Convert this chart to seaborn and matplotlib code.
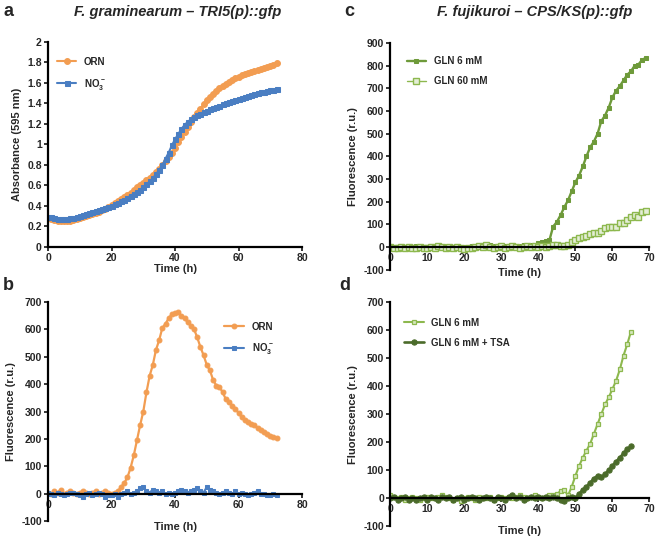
import matplotlib
matplotlib.use('Agg')
import matplotlib.pyplot as plt
import matplotlib.ticker as mticker
import seaborn as sns

# ---- panel a: absorbance, hourly 0..72 h
time_a = list(range(0, 73))
abs_orn = [0.28, 0.27, 0.26, 0.255, 0.25, 0.25, 0.25, 0.255, 0.26, 0.27,
           0.28, 0.29, 0.30, 0.31, 0.32, 0.33, 0.345, 0.36, 0.375, 0.39,
           0.41, 0.43, 0.45, 0.47, 0.49, 0.51, 0.53, 0.555, 0.58, 0.60,
           0.625, 0.65, 0.675, 0.70, 0.73, 0.76, 0.80, 0.84, 0.88, 0.92,
           0.97, 1.02, 1.07, 1.12, 1.17, 1.22, 1.27, 1.31, 1.35, 1.39,
           1.43, 1.46, 1.49, 1.52, 1.55, 1.57, 1.59, 1.61, 1.63, 1.65,
           1.66, 1.68, 1.69, 1.70, 1.71, 1.72, 1.73, 1.74, 1.75, 1.76,
           1.77, 1.78, 1.79]
abs_no3 = [0.29, 0.29, 0.28, 0.275, 0.27, 0.27, 0.275, 0.28, 0.285, 0.29,
           0.30, 0.31, 0.32, 0.33, 0.34, 0.35, 0.36, 0.37, 0.38, 0.39,
           0.40, 0.415, 0.43, 0.445, 0.46, 0.48, 0.50, 0.52, 0.54, 0.56,
           0.58, 0.61, 0.64, 0.67, 0.71, 0.75, 0.80, 0.86, 0.92, 0.99,
           1.05, 1.10, 1.15, 1.19, 1.22, 1.245, 1.265, 1.285, 1.30, 1.315,
           1.33, 1.345, 1.36, 1.37, 1.38, 1.39, 1.40, 1.41, 1.42, 1.43,
           1.44, 1.45, 1.46, 1.47, 1.48, 1.49, 1.50, 1.51, 1.515, 1.52,
           1.53, 1.535, 1.54]

# ---- panel b: fluorescence, hourly 0..72 h
time_b = list(range(0, 73))
fl_orn = [5, 0, 10, 5, 15, 0, 5, 10, 5, 0,
          5, 10, 5, 0, 5, 10, 0, 5, 10, 5,
          0, 5, 10, 25, 40, 60, 95, 140, 195, 250,
          300, 370, 430, 470, 525, 560, 605, 620, 640, 655,
          660, 662, 648, 640, 625, 612, 600, 570, 535, 505,
          470, 450, 415, 395, 390, 370, 345, 335, 322, 310,
          295, 280, 270, 262, 255, 250, 240, 232, 225, 218,
          212, 208, 205]
fl_no3 = [5, 0, -5, 5, 0, -5, 0, 5, 5, 0,
          -5, -10, 0, 5, -5, 0, 5, 0, -10, -5,
          -5, 0, -10, 0, 5, 10, 0, 5, 10, 20,
          25, 10, 5, 15, 10, 5, 10, 0, 5, 0,
          5, 10, 15, 10, 5, 10, 15, 20, 10, 5,
          25, 15, 10, 5, 0, 5, 10, 5, 0, 10,
          0, 5, 0, -5, 0, 5, 10, 0, 0, -5,
          -5, 0, -5]

# ---- panel c: GLN 6 vs 60 mM, hourly 0..69 h
time_c = list(range(0, 70))
gln6_c = [0, -5, 0, 5, 0, -5, 0, 5, 0, -5,
          0, 5, 0, 5, 0, 0, -5, 0, 5, 0,
          -5, 0, 5, 0, 5, 10, 5, 10, 5, 5,
          10, 5, 5, 10, 5, 5, 10, 5, 10, 10,
          15, 20, 25, 30, 90, 110, 140, 175, 205, 245,
          285, 315, 355, 400, 440, 465, 500, 555, 580, 615,
          660, 690, 710, 735, 760, 775, 800, 805, 825, 835]
gln60_c = [0, -5, -5, 0, -5, 0, -5, -5, 0, -5,
           -5, 0, -5, 5, 0, -5, 0, -5, 0, -5,
           -10, -5, -5, 0, 5, 0, 10, 0, -5, 0,
           5, -5, 0, 5, 0, -5, 0, 5, 0, 5,
           0, 5, 0, 5, 10, 10, 5, 5, 10, 20,
           30, 40, 45, 50, 55, 60, 60, 70, 85, 90,
           90, 90, 105, 105, 120, 130, 140, 130, 155, 160]

# ---- panel d: GLN 6 mM +/- TSA, hourly 0..65 h
time_d = list(range(0, 66))
gln6_d = [10, 5, 0, 5, -5, 0, 5, 0, -5, 0,
          5, 0, 0, 5, 10, 5, 0, -5, 0, -10,
          0, 5, 0, -5, 5, 0, 0, 5, -5, 0,
          5, 0, 5, 0, 5, 10, 5, 0, 5, 10,
          5, 0, 5, 10, 10, 15, 25, 30, 10, 40,
          80, 115, 145, 170, 195, 230, 265, 300, 335, 360,
          390, 420, 460, 510, 550, 595]
tsa_d = [0, 5, -5, 0, 5, -5, 0, -5, 0, 5,
         -5, 5, 0, -5, 5, 0, 5, -5, 0, 5,
         -5, 0, 5, 0, -5, 0, 5, 0, -5, 5,
         0, -5, 5, 10, 0, 5, -5, 0, 5, 0,
         5, 0, 5, 0, 5, 0, -5, -10, 0, 5,
         0, 15, 30, 40, 55, 70, 80, 75, 85, 100,
         115, 130, 145, 160, 175, 185]

ORANGE = '#f29d52'
BLUE = '#4a7ec2'
GREEN = '#6e9a3a'
LIGHT_GREEN = '#8db84e'
DARK_GREEN = '#4b6b2a'

sns.set_style('ticks')
plt.rcParams['font.family'] = ['Liberation Sans', 'DejaVu Sans']
plt.rcParams['font.weight'] = 'bold'
plt.rcParams['axes.labelweight'] = 'bold'
plt.rcParams['mathtext.default'] = 'regular'

fig = plt.figure(figsize=(6.58, 5.38), dpi=100)
ax_a = fig.add_axes([0.073, 0.541, 0.386, 0.381])
ax_b = fig.add_axes([0.073, 0.031, 0.386, 0.408])
ax_c = fig.add_axes([0.593, 0.499, 0.394, 0.421])
ax_d = fig.add_axes([0.593, 0.022, 0.394, 0.416])

# x-label top position, in axes fraction
label_xy = {ax_a: -0.085, ax_b: -0.005, ax_c: 0.005, ax_d: 0.0}


def style_axis(ax, xlim, xstep, ylim, ystep, label_y):
    ax.set_xlim(*xlim)
    ax.set_ylim(*ylim)
    ax.xaxis.set_major_locator(mticker.MultipleLocator(xstep))
    ax.yaxis.set_major_locator(mticker.MultipleLocator(ystep))
    ax.yaxis.set_major_formatter(mticker.FuncFormatter(lambda v, p: f'{v:g}'))
    for s in ['top', 'right']:
        ax.spines[s].set_visible(False)
    for s in ['left', 'bottom']:
        ax.spines[s].set_linewidth(1.6)
        ax.spines[s].set_color('black')
    ax.spines['bottom'].set_position(('data', 0))
    ax.tick_params(length=3, width=1.3, labelsize=7.5, pad=1.5)
    for lab in ax.get_xticklabels() + ax.get_yticklabels():
        lab.set_fontweight('bold')
    ax.set_xlabel('Time (h)', fontsize=8, fontweight='bold')
    ax.set_ylabel(label_y, fontsize=8, fontweight='bold')
    ax.xaxis.set_label_coords(0.5, label_xy[ax])


# panel a
sns.lineplot(x=time_a, y=abs_orn, ax=ax_a, color=ORANGE, marker='o', markersize=4.2,
             mec=ORANGE, lw=1.5, label='ORN')
sns.lineplot(x=time_a, y=abs_no3, ax=ax_a, color=BLUE, marker='s', markersize=3.6,
             mec=BLUE, lw=1.5, label='NO$_3^-$')
style_axis(ax_a, (0, 80), 20, (0, 2), 0.2, 'Absorbance (595 nm)')

# panel b
sns.lineplot(x=time_b, y=fl_orn, ax=ax_b, color=ORANGE, marker='o', markersize=3.5,
             mec=ORANGE, lw=1.6, label='ORN')
sns.lineplot(x=time_b, y=fl_no3, ax=ax_b, color=BLUE, marker='s', markersize=3.5,
             mec=BLUE, lw=1.5, label='NO$_3^-$')
style_axis(ax_b, (0, 80), 20, (-100, 700), 100, 'Fluorescence (r.u.)')

# panel c
sns.lineplot(x=time_c, y=gln6_c, ax=ax_c, color=GREEN, marker='s', markersize=3.2,
             mec=GREEN, lw=1.7, label='GLN 6 mM')
sns.lineplot(x=time_c, y=gln60_c, ax=ax_c, color=LIGHT_GREEN, marker='s', markersize=4,
             mfc='#e4eed6', mec=LIGHT_GREEN, mew=1.0, lw=1.0, label='GLN 60 mM')
style_axis(ax_c, (0, 70), 10, (-100, 900), 100, 'Fluorescence (r.u.)')

# panel d
sns.lineplot(x=time_d, y=gln6_d, ax=ax_d, color=LIGHT_GREEN, marker='s', markersize=3.5,
             mfc='#d5e6bd', mec=LIGHT_GREEN, mew=0.9, lw=1.5, label='GLN 6 mM')
sns.lineplot(x=time_d, y=tsa_d, ax=ax_d, color=DARK_GREEN, marker='o', markersize=3.8,
             mec=DARK_GREEN, lw=1.9, label='GLN 6 mM + TSA')
style_axis(ax_d, (0, 70), 10, (-100, 700), 100, 'Fluorescence (r.u.)')

leg_kw = dict(frameon=False, handlelength=2.0, handletextpad=0.8,
              labelspacing=1.0, prop={'weight': 'bold', 'size': 7})
ax_a.legend(loc='upper left', bbox_to_anchor=(0.0, 0.97), **leg_kw)
ax_b.legend(loc='upper left', bbox_to_anchor=(0.66, 0.95), **leg_kw)
ax_c.legend(loc='upper left', bbox_to_anchor=(0.03, 0.98), **leg_kw)
ax_d.legend(loc='upper left', bbox_to_anchor=(0.02, 0.97), **leg_kw)

# titles and panel letters
fig.text(0.27, 0.978, 'F. graminearum \u2013 TRI5(p)::gfp', ha='center', va='center',
         fontsize=10.5, fontweight='bold', style='italic')
fig.text(0.813, 0.978, 'F. fujikuroi \u2013 CPS/KS(p)::gfp', ha='center', va='center',
         fontsize=10.5, fontweight='bold', style='italic')
for x, y, t in [(0.005, 0.978, 'a'), (0.005, 0.47, 'b'), (0.523, 0.978, 'c'), (0.515, 0.47, 'd')]:
    fig.text(x, y, t, ha='left', va='center', fontsize=13, fontweight='bold')

plt.savefig('out.png', dpi=100)
plt.close()
